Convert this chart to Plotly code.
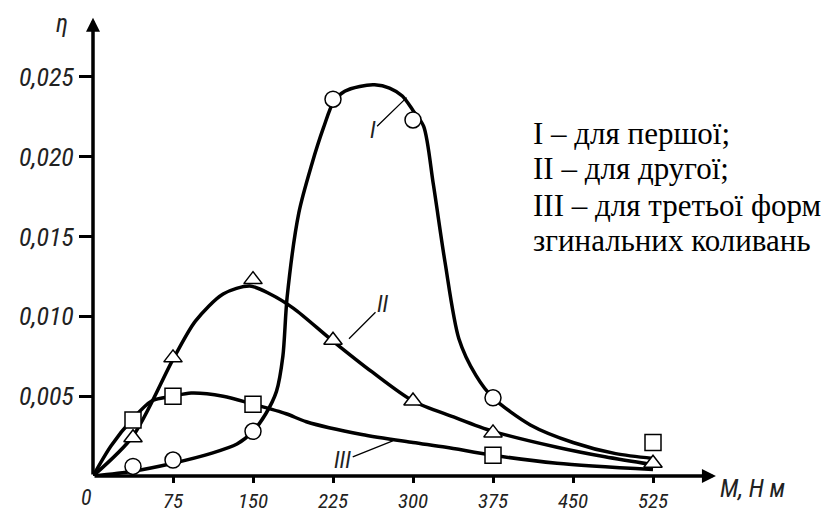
import plotly.graph_objects as go

# ---- data ----
# measured points (markers)
M_I_pts = [37.5, 75, 150, 225, 300, 375]
eta_I_pts = [0.0006, 0.0010, 0.0028, 0.0236, 0.0223, 0.0049]

M_II_pts = [37.5, 75, 150, 225, 300, 375, 525]
eta_II_pts = [0.0024, 0.0074, 0.0123, 0.0085, 0.0047, 0.0027, 0.0008]

M_III_pts = [37.5, 75, 150, 375, 525]
eta_III_pts = [0.0035, 0.0050, 0.0045, 0.0013, 0.0021]

# fitted curves
M_I_curve = [0, 37.5, 75, 110, 135, 150, 162, 172, 178, 182, 193, 205, 216, 226, 236,
             250, 264, 278, 290, 300, 310, 319, 330, 343, 359, 375, 410, 450, 490, 525]
eta_I_curve = [0, 0.0003, 0.0008, 0.0014, 0.0020, 0.0028, 0.0039, 0.0053, 0.0075, 0.0112,
               0.0165, 0.0195, 0.0218, 0.0235, 0.0241, 0.0244, 0.0245, 0.0243, 0.0238,
               0.0229, 0.0219, 0.0183, 0.0134, 0.0086, 0.0063, 0.0049, 0.0032, 0.0021,
               0.0014, 0.0011]

M_II_curve = [0, 37.5, 75, 96, 122, 147, 166, 188, 224, 262, 300, 338, 375, 435, 480, 525]
eta_II_curve = [0, 0.0025, 0.0073, 0.0097, 0.0114, 0.0119, 0.0114, 0.0105, 0.0085, 0.0065,
                0.0047, 0.0037, 0.0028, 0.0018, 0.0012, 0.0007]

M_III_curve = [0, 17, 37.5, 55, 75, 92, 122, 150, 181, 200, 252, 300, 331, 375, 435, 525]
eta_III_curve = [0, 0.0019, 0.0036, 0.0047, 0.0050, 0.0052, 0.0050, 0.0045, 0.0039, 0.0034,
                 0.0026, 0.0021, 0.0018, 0.0013, 0.0008, 0.0004]

x_ticks = [75, 150, 225, 300, 375, 450, 525]
x_ticktext = ["75", "150", "225", "300", "375", "450", "525"]
y_ticks = [0.005, 0.010, 0.015, 0.020, 0.025]
y_ticktext = ["0,005", "0,010", "0,015", "0,020", "0,025"]

legend_lines = ["I – для першої;", "II – для другої;", "III – для третьої форм",
                "згинальних коливань"]

X_MAX = 600
Y_MAX = 0.029
X_ARROW = 584
Y_ARROW = 0.0287

TICK_FONT = dict(family="Roboto Condensed, DejaVu Sans Condensed, sans-serif",
                 size=26, color="#222", style="italic")
SERIF = dict(family="Liberation Serif, Times New Roman, serif", size=31, color="black")

fig = go.Figure()

for mx, my in [(M_I_curve, eta_I_curve), (M_II_curve, eta_II_curve), (M_III_curve, eta_III_curve)]:
    fig.add_trace(go.Scatter(x=mx, y=my, mode="lines",
                             line=dict(color="black", width=3.5, shape="spline", smoothing=0.8),
                             hoverinfo="skip"))

for mx, my, sym, sz in [(M_I_pts, eta_I_pts, "circle", 16),
                        (M_II_pts, eta_II_pts, "triangle-up", 16),
                        (M_III_pts, eta_III_pts, "square", 16)]:
    fig.add_trace(go.Scatter(x=mx, y=my, mode="markers",
                             marker=dict(symbol=sym, size=sz, color="white",
                                         line=dict(color="black", width=1.5)),
                             hoverinfo="skip"))

ann = []
# axis arrows
ann.append(dict(x=X_ARROW, y=0, ax=0, ay=0, xref="x", yref="y", axref="x", ayref="y",
                text="", showarrow=True, arrowhead=2, arrowsize=0.8, arrowwidth=3.5,
                arrowcolor="black"))
ann.append(dict(x=0, y=Y_ARROW, ax=0, ay=0, xref="x", yref="y", axref="x", ayref="y",
                text="", showarrow=True, arrowhead=2, arrowsize=0.8, arrowwidth=3.5,
                arrowcolor="black"))
# origin label, axis titles
ann.append(dict(x=0, y=0, xref="x", yref="y", text="0", showarrow=False,
                xanchor="center", yanchor="top", xshift=-7, yshift=-7,
                font=dict(TICK_FONT, size=22)))
ann.append(dict(x=0, y=Y_ARROW, xref="x", yref="y", text="η", showarrow=False,
                xanchor="center", yanchor="middle", xshift=-31, yshift=-6,
                font=dict(TICK_FONT, size=25)))
ann.append(dict(x=X_ARROW, y=0, xref="x", yref="y", text="М, Н м", showarrow=False,
                xanchor="left", yanchor="middle", xshift=2, yshift=-12,
                font=dict(TICK_FONT, size=25)))
# curve labels with leaders
ann.append(dict(x=294, y=0.0237, xref="x", yref="y", text="I", showarrow=True,
                arrowhead=0, arrowwidth=1.3, arrowcolor="black", ax=-34, ay=33,
                font=dict(TICK_FONT, size=23)))
ann.append(dict(x=240, y=0.0086, xref="x", yref="y", text="II", showarrow=True,
                arrowhead=0, arrowwidth=1.3, arrowcolor="black", ax=34, ay=-34,
                font=dict(TICK_FONT, size=23)))
ann.append(dict(x=281, y=0.0022, xref="x", yref="y", text="III", showarrow=True,
                arrowhead=0, arrowwidth=1.3, arrowcolor="black", ax=-50, ay=20,
                font=dict(TICK_FONT, size=23)))
# legend text
for txt, yp in zip(legend_lines, [0.7387, 0.6631, 0.5832, 0.5076]):
    ann.append(dict(x=0.684, y=yp, xref="paper", yref="paper", text=txt, showarrow=False,
                    xanchor="left", yanchor="middle", font=SERIF))

# the page places the figure 8 px from the top-left corner of the window
fig.update_layout(
    width=826, height=506,
    margin=dict(l=85, r=101, t=5, b=38),
    plot_bgcolor="white", paper_bgcolor="white",
    showlegend=False,
    annotations=ann,
    xaxis=dict(range=[0, X_MAX], showgrid=False, zeroline=False, showline=False,
               automargin=False,
               ticks="outside", ticklen=6, tickwidth=3, tickcolor="black",
               tickvals=x_ticks, ticktext=x_ticktext, tickfont=dict(TICK_FONT, size=21)),
    yaxis=dict(range=[0, Y_MAX], showgrid=False, zeroline=False, showline=False,
               automargin=False,
               ticks="outside", ticklen=13, tickwidth=3, tickcolor="black",
               tickvals=y_ticks, ticktext=y_ticktext, tickfont=TICK_FONT),
)

fig.write_html("out.html")
